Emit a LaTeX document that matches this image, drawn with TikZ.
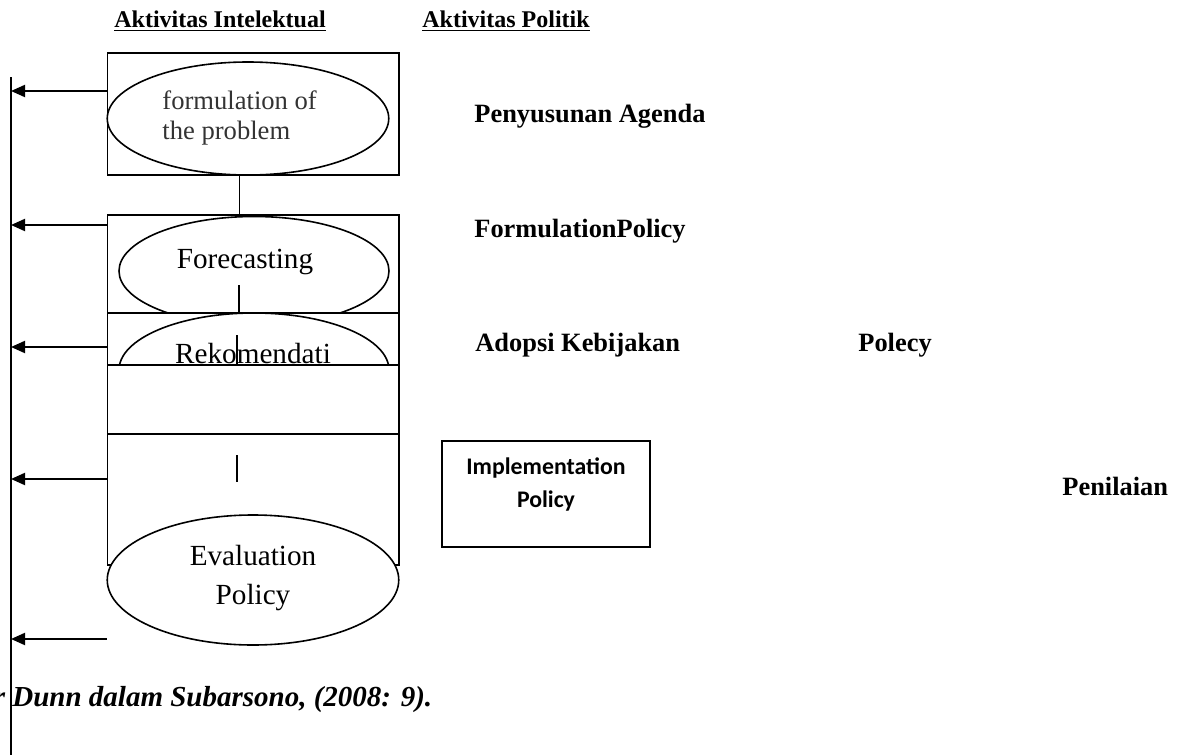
\documentclass[tikz,border=0pt]{standalone}
\usepackage{fontspec}
\setmainfont{Liberation Serif}
\newfontfamily\calibrifont{Carlito}
\usetikzlibrary{shapes.geometric,arrows.meta}

\begin{document}
\begin{tikzpicture}[x=0.5pt,y=-0.5pt,
    box/.style={draw,line width=0.9pt,fill=white,minimum width=145.75pt,inner sep=0pt},
    oval/.style={draw,ellipse,line width=0.8pt,fill=white,inner sep=0pt},
    lbl/.style={font=\fontsize{13.2}{15}\selectfont\bfseries,anchor=base west,inner sep=0pt},
    ovtext/.style={font=\fontsize{14.6}{19.5}\selectfont,inner sep=0pt,align=center},
    tick/.style={line width=0.7pt},
    arr/.style={line width=1pt,-{Triangle[length=7pt,width=6pt]}}]
  \useasboundingbox (0,0) rectangle (1178,755);
  % headers
  \node[font=\fontsize{12}{14}\selectfont\bfseries,anchor=base west,inner sep=0pt] (hint) at (114,27) {\underline{Aktivitas Intelektual}};
  \node[font=\fontsize{12}{14}\selectfont\bfseries,anchor=base west,inner sep=0pt] (hpol) at (422,27) {\underline{Aktivitas Politik}};
  % left column
  \node[box,minimum height=61pt] (boxA) at (253.25,114) {};
  \node[oval,minimum width=140.75pt,minimum height=56.5pt] (ovA) at (248,118.5) {};
  \node[font=\fontsize{13.3}{15}\selectfont,text=black!80,align=left,anchor=west,inner sep=0pt] (tA) at (162,118) {formulation of\\the problem};
  \node[box,minimum height=49pt] (boxB) at (253.25,264) {};
  \draw[tick] ([xshift=-7pt]boxA.south) -- ([xshift=-7pt]boxB.north);
  \node[oval,minimum width=135pt,minimum height=54.5pt] (ovF) at (254,271) {};
  \node[ovtext] (tF) at (245,262) {Forecasting};
  \node[box,minimum height=26pt] (boxC) at (253.25,339) {};
  \coordinate (kF) at (239,285);
  \draw[tick] (kF) -- (kF |- boxC.north);
  \node[oval,minimum width=135pt,minimum height=57pt] (ovR) at (254,370) {};
  \node[ovtext,anchor=base] (tR) at (253,363) {Rekomendati};
  \node[box,minimum height=34.5pt] (boxD) at (253.25,399.5) {};
  \coordinate (kR) at (237,335);
  \draw[tick] (kR) -- (kR |- boxD.north);
  \node[box,minimum height=65.5pt] (boxE) at (253.25,499.5) {};
  \coordinate (kE) at (237,455);
  \draw[tick] (kE) -- ++(0,27);
  \node[oval,minimum width=145.75pt,minimum height=65pt] (ovE) at (253,580) {};
  \node[ovtext] (tE) at (253,578) {Evaluation\\Policy};
  % feedback line and arrows
  \coordinate (top) at (11,77);
  \coordinate (bot) at (11,755);
  \draw[line width=0.8pt] (top) -- (bot);
  \foreach \y/\n in {91/1,225/2,347/3,479/4,639/5}
    \coordinate (in\n) at (11,\y);
  \draw[arr] (boxA.west |- in1) -- (in1);
  \draw[arr] (boxB.west |- in2) -- (in2);
  \draw[arr] (boxC.west |- in3) -- (in3);
  \draw[arr] (boxE.west |- in4) -- (in4);
  \draw[arr] (boxE.west |- in5) -- (in5);
  % political stages
  \node[lbl] (agenda) at (474,122) {Penyusunan Agenda};
  \node[lbl] (formul) at (474,237) {FormulationPolicy};
  \node[lbl] (adopsi) at (475,351) {Adopsi Kebijakan};
  \node[lbl] (polecy) at (858,351) {Polecy};
  \node[draw,line width=1pt,minimum width=104pt,minimum height=53pt,inner sep=0pt] (impl) at (546,494) {};
  \node[font=\calibrifont\fontsize{11.9}{16.5}\selectfont\bfseries,align=center,inner sep=0pt] (timpl) at (546,484) {Implementation\\Policy};
  \node[lbl] (nilai) at (1062,495) {Penilaian};
  % source
  \node[font=\fontsize{14.5}{16}\selectfont\bfseries\itshape,anchor=base west,inner sep=0pt] (src) at (-6.5,706) {r Dunn dalam Subarsono, (2008: 9).};
\end{tikzpicture}
\end{document}
